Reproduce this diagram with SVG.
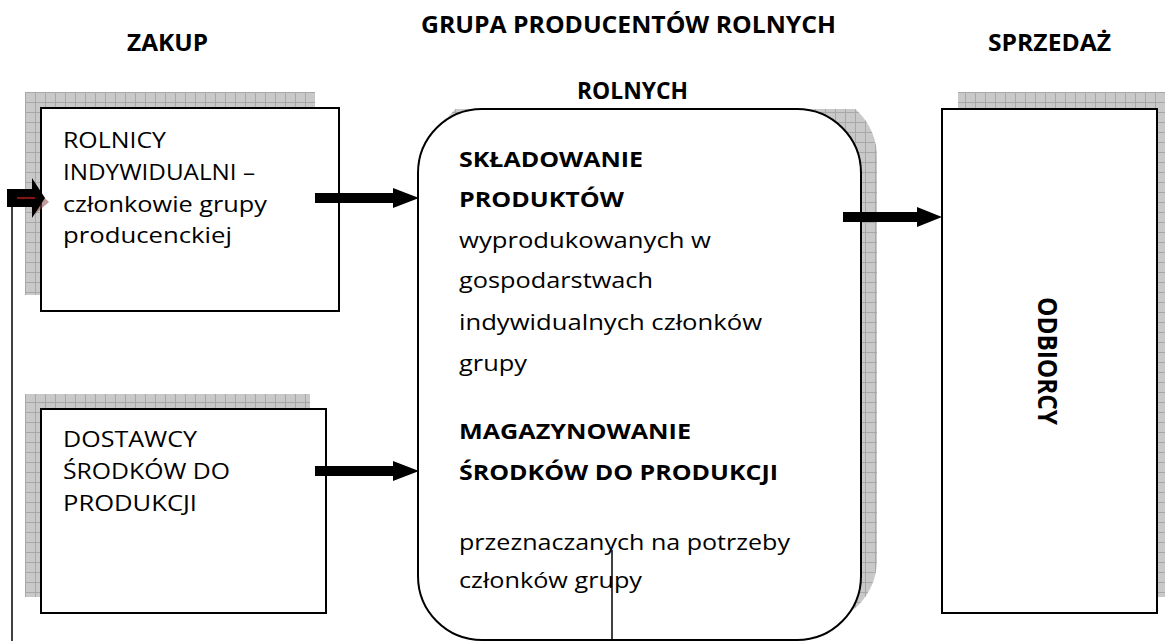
<svg xmlns="http://www.w3.org/2000/svg" width="1165" height="641" viewBox="0 0 1165 641">
<style>
text{font-family:"Open Sans","Liberation Sans",sans-serif;fill:#000}
.h{font-size:23px;font-weight:bold}
.b{font-size:22px}
.bb{font-size:22px;font-weight:bold}
.box{fill:#fff;stroke:#000;stroke-width:2}
.sh{fill:url(#hatch)}
.conn{fill:none;stroke:#000;stroke-width:1.5}
</style>
<defs>
<pattern id="hatch" patternUnits="userSpaceOnUse" x="5" y="2" width="10" height="10">
<rect width="10" height="10" fill="#c9c9c9"/>
<path d="M0 0.5H10M0.5 0V10" stroke="#a8a8a8" stroke-width="1"/>
</pattern>
<clipPath id="clipTop"><rect x="0" y="109" width="1165" height="532"/></clipPath>
</defs>

<g id="headers">
<text class="h" x="127" y="51" textLength="81" lengthAdjust="spacingAndGlyphs">ZAKUP</text>
<text class="h" x="421" y="33" textLength="415" lengthAdjust="spacingAndGlyphs">GRUPA PRODUCENTÓW ROLNYCH</text>
<text class="h" x="577" y="99" textLength="111" lengthAdjust="spacingAndGlyphs">ROLNYCH</text>
<text class="h" x="988" y="51" textLength="123" lengthAdjust="spacingAndGlyphs">SPRZEDAŻ</text>
</g>

<g id="rolnicy">
<rect class="sh" x="25" y="92" width="290" height="203"/>
<rect class="box" x="41" y="108" width="298" height="203"/>
<text class="b" x="63" y="148" textLength="103" lengthAdjust="spacingAndGlyphs">ROLNICY</text>
<text class="b" x="63" y="180" textLength="192" lengthAdjust="spacingAndGlyphs">INDYWIDUALNI –</text>
<text class="b" x="63" y="212" textLength="204" lengthAdjust="spacingAndGlyphs">członkowie grupy</text>
<text class="b" x="63" y="243" textLength="169" lengthAdjust="spacingAndGlyphs">producenckiej</text>
</g>

<g id="dostawcy">
<rect class="sh" x="25" y="394" width="285" height="203"/>
<rect class="box" x="41" y="409" width="285" height="204"/>
<text class="b" x="63" y="447" textLength="134" lengthAdjust="spacingAndGlyphs">DOSTAWCY</text>
<text class="b" x="63" y="479" textLength="167" lengthAdjust="spacingAndGlyphs">ŚRODKÓW DO</text>
<text class="b" x="63" y="511" textLength="134" lengthAdjust="spacingAndGlyphs">PRODUKCJI</text>
</g>

<g id="grupa">
<rect class="sh" x="434" y="93" width="443" height="531" rx="64" ry="64" clip-path="url(#clipTop)"/>
<rect class="box" x="418" y="109" width="443" height="531" rx="64" ry="64"/>
<text class="bb" x="459" y="167" textLength="184" lengthAdjust="spacingAndGlyphs">SKŁADOWANIE</text>
<text class="bb" x="459" y="207" textLength="165" lengthAdjust="spacingAndGlyphs">PRODUKTÓW</text>
<text class="b" x="459" y="248" textLength="252" lengthAdjust="spacingAndGlyphs">wyprodukowanych w</text>
<text class="b" x="459" y="288" textLength="194" lengthAdjust="spacingAndGlyphs">gospodarstwach</text>
<text class="b" x="459" y="330" textLength="303" lengthAdjust="spacingAndGlyphs">indywidualnych członków</text>
<text class="b" x="459" y="371" textLength="68" lengthAdjust="spacingAndGlyphs">grupy</text>
<text class="bb" x="459" y="439" textLength="232" lengthAdjust="spacingAndGlyphs">MAGAZYNOWANIE</text>
<text class="bb" x="459" y="480" textLength="319" lengthAdjust="spacingAndGlyphs">ŚRODKÓW DO PRODUKCJI</text>
<text class="b" x="459" y="550" textLength="331" lengthAdjust="spacingAndGlyphs">przeznaczanych na potrzeby</text>
<text class="b" x="459" y="588" textLength="183" lengthAdjust="spacingAndGlyphs">członków grupy</text>
</g>

<g id="odbiorcy">
<rect class="sh" x="958" y="92" width="215" height="505"/>
<rect class="box" x="942" y="109" width="215" height="504"/>
<text transform="translate(1038,361) rotate(90)" x="0" y="0" text-anchor="middle" style="font-size:27px;font-weight:bold" textLength="128" lengthAdjust="spacingAndGlyphs">ODBIORCY</text>
</g>

<g id="connectors">
<polygon points="315,193 393,193 393,188 419,198 393,208 393,203 315,203" fill="#000"/>
<polygon points="315,466 393,466 393,461 419,471 393,481 393,476 315,476" fill="#000"/>
<polygon points="843,212 917,212 917,207 942,217 917,227 917,222 843,222" fill="#000"/>
<polygon points="34,188 49,202 35,214 31,206" fill="#8a4a48" opacity="0.55"/>
<polygon points="7,189 32,189 32,178 45,198 32,218 32,207 7,207" fill="#000"/>
<line x1="17" y1="198" x2="35" y2="198" stroke="#e02020" stroke-width="1.2"/>
<line class="conn" x1="12" y1="207" x2="12" y2="641"/>
<line class="conn" x1="612" y1="550" x2="612" y2="641"/>
</g>
</svg>
